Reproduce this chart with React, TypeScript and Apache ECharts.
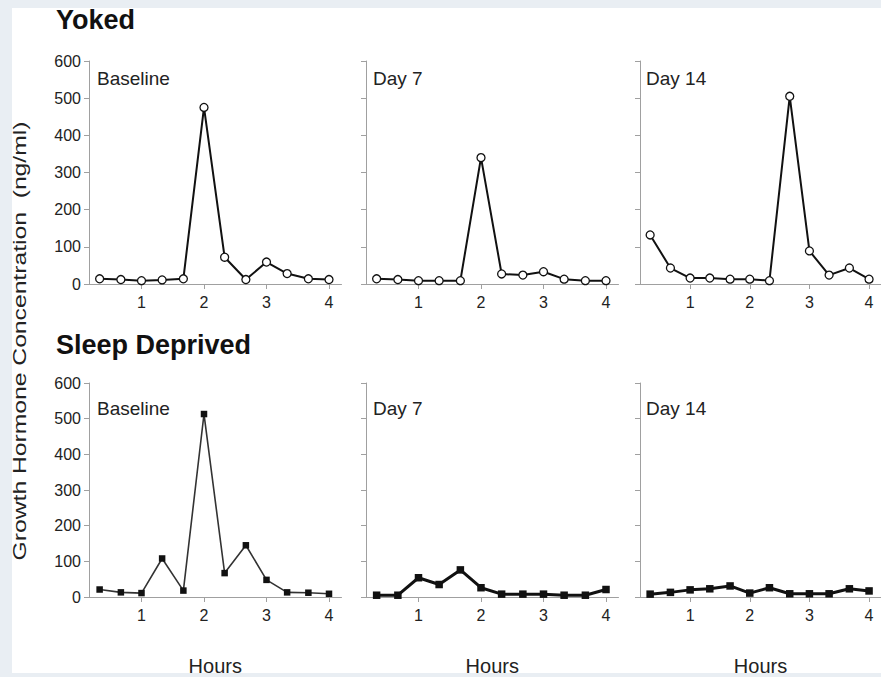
import React, { useEffect, useRef } from "react";
import * as echarts from "echarts";

const hours = [0.33, 0.67, 1, 1.33, 1.67, 2, 2.33, 2.67, 3, 3.33, 3.67, 4];
const xTickValues = [1, 2, 3, 4];
const yTickMin = 0;
const yTickMax = 600;
const yTickStep = 100;

const yokedBaseline = [14, 12, 9, 11, 14, 475, 72, 12, 59, 28, 14, 12];
const yokedDay7 = [14, 12, 9, 9, 9, 340, 27, 24, 33, 13, 9, 9];
const yokedDay14 = [132, 43, 16, 16, 13, 13, 9, 505, 89, 24, 43, 13];
const sdBaseline = [21, 13, 11, 108, 18, 513, 67, 145, 48, 13, 12, 9];
const sdDay7 = [5, 5, 54, 35, 76, 26, 8, 8, 8, 5, 5, 21];
const sdDay14 = [8, 13, 20, 23, 31, 11, 26, 9, 9, 9, 23, 17];

const panelTitles = ["Baseline", "Day 7", "Day 14"];
const groupTitles = ["Yoked", "Sleep Deprived"];
const yAxisTitle = "Growth Hormone Concentration  (ng/ml)";
const xAxisTitle = "Hours";

const FONT = 'Arial, "Liberation Sans", Helvetica, sans-serif';

export default function App() {
  const ref = useRef<HTMLDivElement>(null);

  useEffect(() => {
    if (!ref.current) return;
    const chart = echarts.init(ref.current, undefined, { renderer: "svg" });

    const colLefts = [89, 366, 640];
    const rowTops = [61, 383];
    const gridW = 252.5;
    const gridH = 223;
    const rows = [
      [yokedBaseline, yokedDay7, yokedDay14],
      [sdBaseline, sdDay7, sdDay14],
    ];

    const grids: any[] = [];
    const xAxes: any[] = [];
    const yAxes: any[] = [];
    const series: any[] = [];

    rows.forEach((rowData, r) => {
      rowData.forEach((vals, c) => {
        const i = r * 3 + c;
        grids.push({ left: colLefts[c], top: rowTops[r], width: gridW, height: gridH });
        xAxes.push({
          type: "value",
          gridIndex: i,
          min: 0.16,
          max: 4.2,
          axisLine: { show: true, onZero: false, lineStyle: { color: "#a0a0a0", width: 1 } },
          axisTick: { show: true, customValues: xTickValues, length: 5, lineStyle: { color: "#a0a0a0" } },
          axisLabel: { customValues: xTickValues, fontSize: 16, color: "#222", margin: 10, fontFamily: FONT },
          splitLine: { show: false },
          name: r === 1 ? xAxisTitle : "",
          nameLocation: "middle",
          nameGap: 59,
          nameTextStyle: { fontSize: 20, color: "#222", fontFamily: FONT },
        });
        yAxes.push({
          type: "value",
          gridIndex: i,
          min: yTickMin,
          max: yTickMax,
          interval: yTickStep,
          axisLine: { show: true, onZero: false, lineStyle: { color: "#a0a0a0", width: 1 } },
          axisTick: { show: true, length: 5, lineStyle: { color: "#a0a0a0" } },
          axisLabel: { show: c === 0, fontSize: 16, color: "#222", margin: 8, fontFamily: FONT },
          splitLine: { show: false },
        });
        const isTop = r === 0;
        const thick = r === 1 && c > 0;
        series.push({
          type: "line",
          xAxisIndex: i,
          yAxisIndex: i,
          data: hours.map((h, k) => [h, vals[k]]),
          symbol: isTop ? "circle" : "rect",
          symbolSize: isTop ? 8 : thick ? 7.5 : 6.5,
          showSymbol: true,
          itemStyle: isTop
            ? { color: "#fff", borderColor: "#111", borderWidth: 1.3 }
            : { color: "#111", borderWidth: 0 },
          lineStyle: { color: r === 1 && c === 0 ? "#333" : "#111", width: isTop ? 2 : thick ? 3 : 1.6 },
          silent: true,
          z: 3,
        });
      });
    });

    const graphics: any[] = [];
    const titleY = [20, 345];
    groupTitles.forEach((t, r) => {
      graphics.push({
        type: "text",
        x: 56,
        y: titleY[r],
        style: { text: t, fontSize: 27, fontWeight: "bold", fontFamily: FONT, fill: "#111", align: "left", verticalAlign: "middle" },
      });
    });
    const ptX = [97, 373, 646];
    const ptY = [78, 408];
    [0, 1].forEach((r) => {
      panelTitles.forEach((t, c) => {
        graphics.push({
          type: "text",
          x: ptX[c],
          y: ptY[r],
          style: { text: t, fontSize: 19, fontFamily: FONT, fill: "#222", align: "left", verticalAlign: "middle" },
        });
      });
    });
    graphics.push({
      type: "text",
      x: 20,
      y: 341,
      rotation: Math.PI / 2,
      scaleX: 1.3,
      scaleY: 1,
      style: { text: yAxisTitle, fontSize: 19, fontFamily: FONT, fill: "#222", align: "center", verticalAlign: "middle" },
    });

    chart.setOption({
      animation: false,
      backgroundColor: "transparent",
      grid: grids,
      xAxis: xAxes,
      yAxis: yAxes,
      series,
      graphic: graphics,
    });

    return () => chart.dispose();
  }, []);

  return (
    <div style={{ position: "fixed", left: 0, top: 0, width: 881, height: 677, background: "#e9eef3", overflow: "hidden" }}>
      <div style={{ position: "absolute", left: 12, top: 8, width: 869, height: 665, background: "#fff" }} />
      <div ref={ref} style={{ position: "absolute", left: 0, top: 0, width: 881, height: 677 }} />
    </div>
  );
}
